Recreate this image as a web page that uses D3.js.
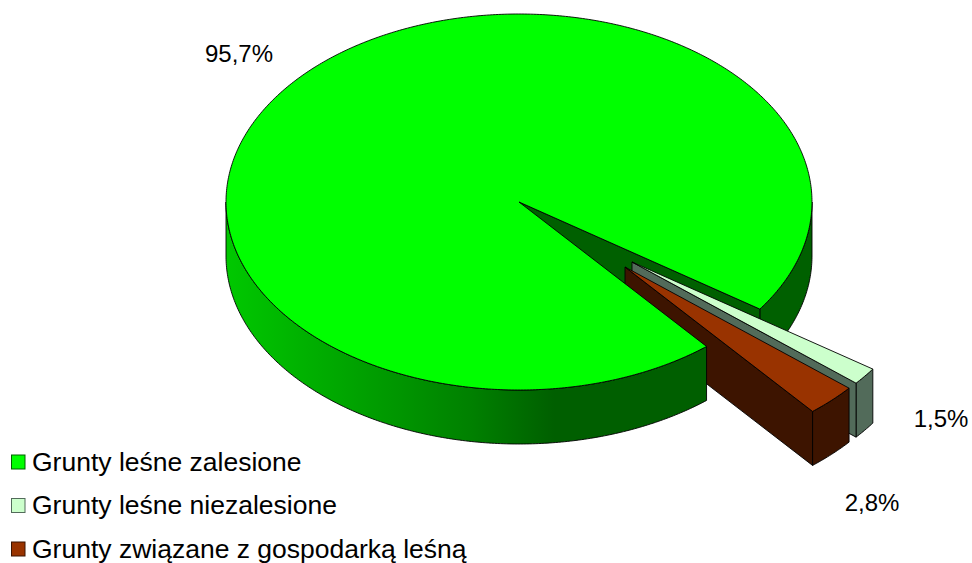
<!DOCTYPE html>
<html><head><meta charset="utf-8">
<script src="https://cdn.jsdelivr.net/npm/d3@7"></script>
<style>html,body{margin:0;background:#fff}svg{display:block}text{font-family:"Liberation Sans",Arial,sans-serif;fill:#000}</style>
</head><body><svg id="c" width="972" height="563"></svg>
<script>
const categories = ["Grunty leśne zalesione","Grunty leśne niezalesione","Grunty związane z gospodarką leśną"];
const values = [95.7,1.5,2.8];
const valueLabels = ["95,7%","1,5%","2,8%"];
const topColors = ["#00ff00","#ccffcc","#993300"];
const wallColors = ["#006000","#526b5a","#3d1400"];

const cx=519, cy=202, rx=293, ry=188, depth=54;
const explode=[[0,0],[113,60],[106,65]];
const labelPos=[[239,62],[941,427],[872,511]];
const legendY=[462,505.5,549];

const svg=d3.select("#c");
const defs=svg.append("defs");
const grad=defs.append("linearGradient").attr("id","wallGrad").attr("gradientUnits","userSpaceOnUse")
  .attr("x1",cx-rx).attr("x2",cx+rx).attr("y1",0).attr("y2",0);
[[0,"#00c800"],[0.42,"#008000"],[0.56,"#005f00"],[1,"#005f00"]].forEach(s=>grad.append("stop").attr("offset",s[0]).attr("stop-color",s[1]));

const start=140.2*Math.PI/180;
const arcs=d3.pie().sort(null).startAngle(start).endAngle(start+2*Math.PI)(values);
const sx=d3.scaleLinear().domain([-1,1]).range([-rx,rx]);
const sy=d3.scaleLinear().domain([-1,1]).range([-ry,ry]);
const pt=(a,i,dz=0)=>[cx+explode[i][0]+sx(Math.sin(a)),cy+explode[i][1]-sy(Math.cos(a))+dz];
const center=(i,dz=0)=>[cx+explode[i][0],cy+explode[i][1]+dz];
const lineGen=d3.line();
const samples=(a0,a1,i,dz=0)=>{const n=Math.max(2,Math.ceil(Math.abs(a1-a0)/0.01));return d3.range(n+1).map(k=>pt(a0+(a1-a0)*k/n,i,dz));};
const draw=(pts,fill)=>svg.append("path").attr("d",lineGen(pts)+"Z").attr("fill",fill).attr("stroke","#000").attr("stroke-width",0.9).attr("stroke-linejoin","round");
const band=(a0,a1,i,fill)=>draw(samples(a0,a1,i).concat(samples(a1,a0,i,depth)),fill);
const quad=(a,i,fill)=>draw([center(i),pt(a,i),pt(a,i,depth),center(i,depth)],fill);
const topFace=(i)=>draw([center(i)].concat(samples(arcs[i].startAngle,arcs[i].endAngle,i)),topColors[i]);

const m=arcs[0], l=arcs[1], b=arcs[2];
const east=2.5*Math.PI, west=1.5*Math.PI; // rim extremes in main slice's angle range
// back parts of the main slice
band(east,m.endAngle,0,wallColors[0]);
quad(m.endAngle,0,wallColors[0]);
// exploded wedges
band(l.startAngle,l.endAngle,1,wallColors[1]);
quad(l.endAngle,1,wallColors[1]);
topFace(1);
band(b.startAngle,b.endAngle,2,wallColors[2]);
quad(b.endAngle,2,wallColors[2]);
topFace(2);
// front of the main slice
band(m.startAngle,west,0,"url(#wallGrad)");
topFace(0);

svg.selectAll("text.val").data(valueLabels).join("text").attr("class","val")
  .attr("x",(d,i)=>labelPos[i][0]).attr("y",(d,i)=>labelPos[i][1]).attr("text-anchor","middle").attr("font-size",24).text(d=>d);
const lg=svg.selectAll("g.lg").data(categories).join("g").attr("class","lg");
lg.append("rect").attr("x",11.5).attr("y",(d,i)=>legendY[i]-7).attr("width",13.5).attr("height",14)
  .attr("fill",(d,i)=>topColors[i]).attr("stroke",(d,i)=>wallColors[i]).attr("stroke-width",1);
lg.append("text").attr("x",32).attr("y",(d,i)=>legendY[i]+8.5).attr("font-size",26.5).text(d=>d);
</script></body></html>
